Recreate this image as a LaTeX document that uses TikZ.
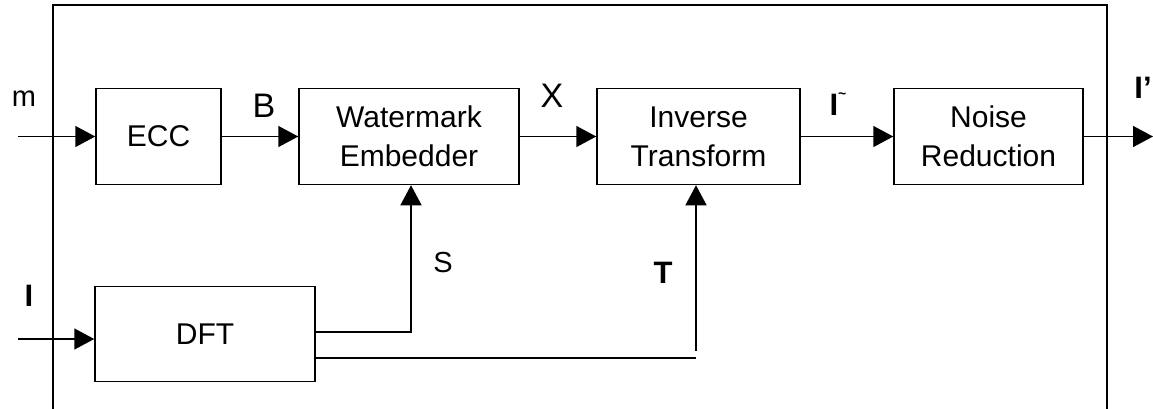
\documentclass[tikz,border=0pt]{standalone}
\usepackage{fontspec}
\setmainfont{Liberation Sans}
\usetikzlibrary{arrows.meta}
\tikzset{
  blk/.style={draw, line width=1.5pt, minimum height=96pt, align=center, inner sep=0pt,
              font=\fontsize{30}{39}\selectfont},
  conn/.style={line width=1.5pt},
  arr/.style={conn, -{Triangle[length=20pt,width=21pt]}},
  lbl/.style={font=\fontsize{29}{34}\selectfont, inner sep=0pt},
  biglbl/.style={font=\fontsize{34}{38}\selectfont, inner sep=0pt},
  boldlbl/.style={font=\fontsize{31}{34}\selectfont\bfseries, inner sep=0pt},
}
\begin{document}
\begin{tikzpicture}[x=1pt,y=-1pt]
\useasboundingbox (0,0) rectangle (1153,408);
% outer frame (bottom cut off)
\draw[line width=1.5pt] (53,410) -- (53,5) -- (1107,5) -- (1107,410);
% blocks
\node[blk, minimum width=125pt] (ecc) at (158.5,136.5) {ECC};
\node[blk, minimum width=220pt] (we) at (409,136.5) {Watermark\\Embedder};
\node[blk, minimum width=203pt] (it) at (698.5,136.5) {Inverse\\Transform};
\node[blk, minimum width=189pt] (nr) at (988.5,136.5) {Noise\\Reduction};
\node[blk, minimum width=220pt, minimum height=95pt] (dft) at (205,334) {DFT};
% coordinates
\coordinate (min) at (18,136.5);
\coordinate (iin) at (18,339);
\coordinate (out) at (1153,136.5);
\coordinate (s1) at (315,332);
\coordinate (s2) at (411,332);
\coordinate (t1) at (315,358);
\coordinate (t2) at (696,358);
\coordinate (t3) at (696,351);
% connectors
\draw[arr] (min) -- (ecc.west);
\draw[arr] (ecc.east) -- (we.west);
\draw[arr] (we.east) -- (it.west);
\draw[arr] (it.east) -- (nr.west);
\draw[arr] (nr.east) -- (out);
\draw[arr] (iin) -- (iin -| dft.west);
\draw[arr] (s1) -- (s2) -- (s2 |- we.south);
\draw[conn] (t1) -- (t2);
\draw[arr] (t3) -- (t3 |- it.south);
% labels
\node[lbl] (lm) at (24,99) {m};
\node[biglbl] (lb) at (264,106) {B};
\node[biglbl] (lx) at (552,96) {X};
\node[boldlbl] (lit) at (838,104) {I\raisebox{0.55em}{\fontsize{14}{14}\selectfont\textasciitilde}};
\node[boldlbl] (lip) at (1143,88) {I’};
\node[lbl] (ls) at (443,263) {S};
\node[boldlbl] (lt) at (663,273) {T};
\node[boldlbl] (li) at (29,296) {I};
\end{tikzpicture}
\end{document}
